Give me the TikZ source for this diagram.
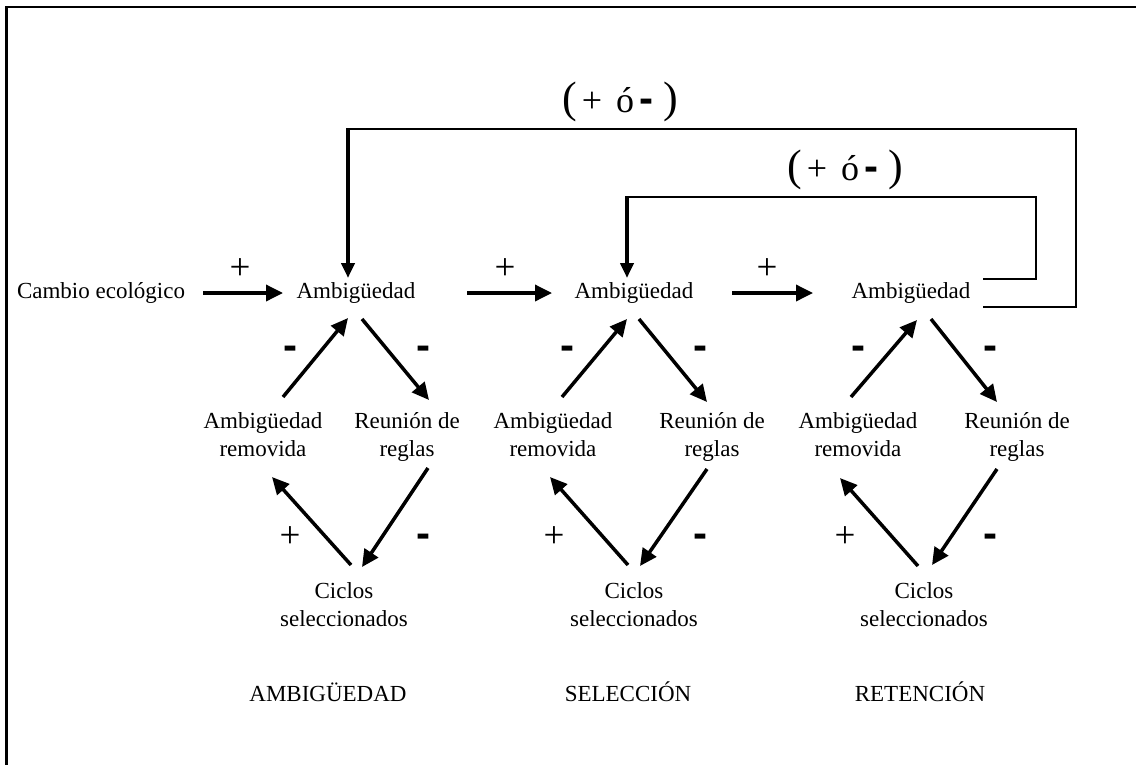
\documentclass[tikz,border=0pt]{standalone}
\usepackage{fontspec}
\setmainfont{Liberation Serif}
\newfontfamily\signfont{Liberation Sans}
\usetikzlibrary{arrows.meta}
% centred two-line label whose base is the first line's baseline
\newcommand\twolines[2]{\begin{tabular}[t]{@{}c@{}}#1\\#2\end{tabular}}
\newcommand\bigparen[1]{{\fontsize{44}{48}\selectfont #1}}
\newcommand\thickminus{{\signfont\bfseries\fontsize{42}{44}\selectfont -}}
\newcommand\eitherway{\bigparen{(}\kern5pt+\kern14pt ó\kern5pt\thickminus\kern10pt\bigparen{)}}

\begin{document}
\begin{tikzpicture}[x=1pt,y=-1pt,
  lbl/.style={inner sep=0pt, anchor=base, font=\fontsize{23}{28}\selectfont},
  plussign/.style={inner sep=0pt, anchor=base, font=\fontsize{37}{40}\selectfont},
  minussign/.style={inner sep=0pt, anchor=base, font=\signfont\bfseries\fontsize{42}{44}\selectfont},
  polarity/.style={inner sep=0pt, anchor=base, font=\fontsize{36}{40}\selectfont},
  flow/.style={line width=3.5pt, -{Triangle[length=17pt,width=16pt]}},
  fb/.style={line width=2pt},
  fbarrow/.style={line width=4pt, -{Triangle[length=15pt,width=13pt]}},
  frame/.style={line width=2.2pt}]
\useasboundingbox (0,0) rectangle (1136,764);

% outer frame (open to the right and bottom)
\draw[frame] (6.5,770) -- (6.5,7) -- (1140,7);

% main row
\node[lbl] (cam)  at (101,298) {Cambio ecológico};
\node[lbl] (amb1) at (356,298) {Ambigüedad};
\node[lbl] (amb2) at (634,298) {Ambigüedad};
\node[lbl] (amb3) at (911,298) {Ambigüedad};

\node[plussign] (p0) at (240,279) {+};
\node[plussign] (p1) at (505,279) {+};
\node[plussign] (p2) at (767,279) {+};

\draw[flow] ([shift={(102,-5)}]cam.base)  -- ([shift={(-73,-5)}]amb1.base);
\draw[flow] ([shift={(111,-5)}]amb1.base) -- ([shift={(-82,-5)}]amb2.base);
\draw[flow] ([shift={(98,-5)}]amb2.base)  -- ([shift={(-98,-5)}]amb3.base);

% feedback loops
\node[polarity] (fbo) at (620,112) {\eitherway};
\node[polarity] (fbi) at (845,180) {\eitherway};

\coordinate (ocorner) at (348,129);
\coordinate (icorner) at (627,197);
\draw[fb] ([shift={(72,9)}]amb3.base) -| (1076,129) -- (ocorner);
\draw[fbarrow] ([yshift=1pt]ocorner) -- ([shift={(-8,-20)}]amb1.base);
\draw[fb] ([shift={(72,-19)}]amb3.base) -| (1036,197) -- (icorner);
\draw[fbarrow] ([yshift=1pt]icorner) -- ([shift={(-7,-20)}]amb2.base);

% cycle 1
\node[lbl] (rem1) at (263,428) {\twolines{Ambigüedad}{removida}};
\node[lbl] (reu1) at (407,428) {\twolines{Reunión de}{reglas}};
\node[lbl] (cic1) at (344,598) {\twolines{Ciclos}{seleccionados}};
\draw[flow] ([shift={(20,-31)}]rem1.base) -- ([shift={(-8,20)}]amb1.base);
\draw[flow] ([shift={(6,21)}]amb1.base)   -- ([shift={(22,-28)}]reu1.base);
\draw[flow] ([shift={(21,40)}]reu1.base)  -- ([shift={(18,-31)}]cic1.base);
\draw[flow] ([shift={(7,-33)}]cic1.base)  -- ([shift={(9,49)}]rem1.base);
\node[minussign] (m1a) at (290,359) {-};
\node[minussign] (m1b) at (423,359) {-};
\node[plussign]  (p1c) at (290,547) {+};
\node[minussign] (m1d) at (423,547) {-};

% cycle 2
\node[lbl] (rem2) at (553,428) {\twolines{Ambigüedad}{removida}};
\node[lbl] (reu2) at (712,428) {\twolines{Reunión de}{reglas}};
\node[lbl] (cic2) at (634,598) {\twolines{Ciclos}{seleccionados}};
\draw[flow] ([shift={(9,-31)}]rem2.base)  -- ([shift={(-7,21)}]amb2.base);
\draw[flow] ([shift={(5,21)}]amb2.base)   -- ([shift={(-5,-26)}]reu2.base);
\draw[flow] ([shift={(-5,41)}]reu2.base)  -- ([shift={(6,-32)}]cic2.base);
\draw[flow] ([shift={(-6,-33)}]cic2.base) -- ([shift={(-3,49)}]rem2.base);
\node[minussign] (m2a) at (567,359) {-};
\node[minussign] (m2b) at (700,359) {-};
\node[plussign]  (p2c) at (554,547) {+};
\node[minussign] (m2d) at (700,547) {-};

% cycle 3
\node[lbl] (rem3) at (858,428) {\twolines{Ambigüedad}{removida}};
\node[lbl] (reu3) at (1017,428) {\twolines{Reunión de}{reglas}};
\node[lbl] (cic3) at (924,598) {\twolines{Ciclos}{seleccionados}};
\draw[flow] ([shift={(-7,-31)}]rem3.base) -- ([shift={(6,22)}]amb3.base);
\draw[flow] ([shift={(20,21)}]amb3.base)  -- ([shift={(-20,-26)}]reu3.base);
\draw[flow] ([shift={(-20,41)}]reu3.base) -- ([shift={(8,-33)}]cic3.base);
\draw[flow] ([shift={(-6,-32)}]cic3.base) -- ([shift={(-18,50)}]rem3.base);
\node[minussign] (m3a) at (858,359) {-};
\node[minussign] (m3b) at (990,359) {-};
\node[plussign]  (p3c) at (845,547) {+};
\node[minussign] (m3d) at (990,547) {-};

% stage names
\node[lbl] (st1) at (328,701) {AMBIGÜEDAD};
\node[lbl] (st2) at (628,701) {SELECCIÓN};
\node[lbl] (st3) at (920,701) {RETENCIÓN};
\end{tikzpicture}
\end{document}
